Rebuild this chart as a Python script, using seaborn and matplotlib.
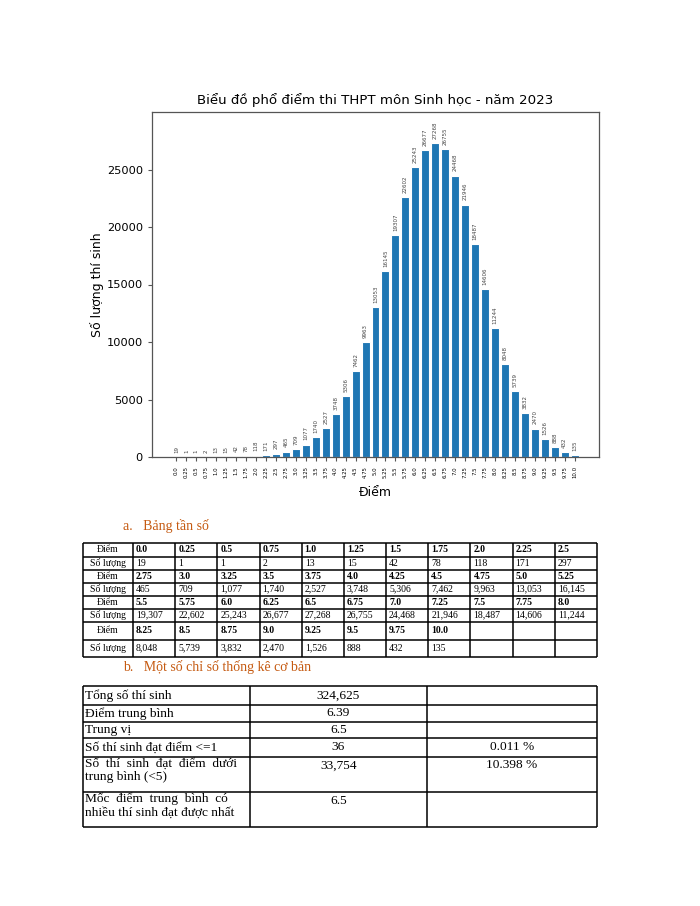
import matplotlib
matplotlib.use("Agg")
import matplotlib.pyplot as plt
import seaborn as sns
import pandas as pd

# --- dados ---
diem = ["0.0", "0.25", "0.5", "0.75", "1.0", "1.25", "1.5", "1.75", "2.0", "2.25", "2.5",
        "2.75", "3.0", "3.25", "3.5", "3.75", "4.0", "4.25", "4.5", "4.75", "5.0", "5.25",
        "5.5", "5.75", "6.0", "6.25", "6.5", "6.75", "7.0", "7.25", "7.5", "7.75", "8.0",
        "8.25", "8.5", "8.75", "9.0", "9.25", "9.5", "9.75", "10.0"]
so_luong = [19, 1, 1, 2, 13, 15, 42, 78, 118, 171, 297,
            465, 709, 1077, 1740, 2527, 3748, 5306, 7462, 9963, 13053, 16145,
            19307, 22602, 25243, 26677, 27268, 26755, 24468, 21946, 18487, 14606, 11244,
            8048, 5739, 3832, 2470, 1526, 888, 432, 135]

title = "Biểu đồ phổ điểm thi THPT môn Sinh học - năm 2023"
heading_a = "a.   Bảng tần số"
heading_b = "b.   Một số chỉ số thống kê cơ bản"

stat_labels = ["Tổng số thí sinh", "Điểm trung bình", "Trung vị", "Số thí sinh đạt điểm <=1",
               "Số  thí  sinh  đạt  điểm  dưới\ntrung bình (<5)",
               "Mốc  điểm  trung  bình  có\nnhiều thí sinh đạt được nhất"]
stat_values = ["324,625", "6.39", "6.5", "36", "33,754", "6.5"]
stat_pcts = ["", "", "", "0.011 %", "10.398 %", ""]

df = pd.DataFrame({"diem": diem, "so_luong": so_luong})

W, H = 700, 906
fig = plt.figure(figsize=(7, 9.06), dpi=100)

# --- gráfico ---
ax = fig.add_axes([152 / W, 1 - 457 / H, (599 - 152) / W, (457 - 112) / H])
sns.barplot(data=df, x="diem", y="so_luong", color="#1f77b4", saturation=1,
            edgecolor="white", linewidth=0.8, width=0.8, ax=ax)
for c in ax.containers:
    ax.bar_label(c, labels=[str(v) for v in so_luong], rotation=90, fontsize=4,
                 color="#444444", padding=3)
ax.set_ylim(0, 30000)
ax.set_xlim(-2.45, 42.45)
ax.set_yticks([0, 5000, 10000, 15000, 20000, 25000])
ax.tick_params(axis="y", labelsize=8.2, length=3, color="#555555")
ax.tick_params(axis="x", labelsize=3.9, rotation=90, length=3, color="#555555")
ax.set_title(title, fontsize=9.6, pad=6)
ax.set_xlabel("Điểm", fontsize=9, labelpad=6)
ax.set_ylabel("Số lượng thí sinh", fontsize=9, labelpad=2)
for s in ax.spines.values():
    s.set_color("#555555")
    s.set_linewidth(0.9)

# --- tabelas (coordenadas em pixels) ---
tx = fig.add_axes([0, 0, 1, 1])
tx.set_xlim(0, W)
tx.set_ylim(H, 0)
tx.axis("off")
serif = "Liberation Serif"
orange = "#c55a11"

tx.text(123, 526, heading_a, fontsize=10, family=serif, color=orange, va="center")
tx.text(123, 667, heading_b, fontsize=10, family=serif, color=orange, va="center")

# tabela a
t1_x = [83, 133] + [133 + 42.18 * i for i in range(1, 12)]
t1_y = [543, 556.5, 570, 582.5, 596, 608.5, 621.5, 640, 656.5]
tx.hlines(t1_y, t1_x[0], t1_x[-1], color="black", lw=1.1)
tx.vlines(t1_x, t1_y[0], t1_y[-1], color="black", lw=1.1)
for r in range(4):
    chunk = diem[r * 11:(r + 1) * 11]
    vals = [f"{v:,}" for v in so_luong[r * 11:(r + 1) * 11]]
    ya = (t1_y[2 * r] + t1_y[2 * r + 1]) / 2
    yb = (t1_y[2 * r + 1] + t1_y[2 * r + 2]) / 2
    tx.text((t1_x[0] + t1_x[1]) / 2, ya, "Điểm", fontsize=7, family=serif, ha="center", va="center")
    tx.text((t1_x[0] + t1_x[1]) / 2, yb, "Số lượng", fontsize=7, family=serif, ha="center", va="center")
    for j, (d, v) in enumerate(zip(chunk, vals)):
        tx.text(t1_x[j + 1] + 3, ya, d, fontsize=7, family=serif, weight="bold", va="center")
        tx.text(t1_x[j + 1] + 3, yb, v, fontsize=7, family=serif, va="center")

# tabela b
t2_x = [83, 250, 427, 597]
t2_y = [686, 705, 721.5, 738, 756.5, 791.5, 826.5]
tx.hlines(t2_y, t2_x[0], t2_x[-1], color="black", lw=1.1)
tx.vlines(t2_x, t2_y[0], t2_y[-1], color="black", lw=1.1)
for i, (lab, val, pct) in enumerate(zip(stat_labels, stat_values, stat_pcts)):
    y0, y1 = t2_y[i], t2_y[i + 1]
    multi = "\n" in lab
    yc = y0 + 9 if multi else (y0 + y1) / 2
    tx.text(t2_x[0] + 2, y0 + 1 if multi else yc, lab, fontsize=9.6, family=serif,
            va="top" if multi else "center", linespacing=1.15)
    tx.text((t2_x[1] + t2_x[2]) / 2, yc, val, fontsize=9.6, family=serif, ha="center", va="center")
    tx.text((t2_x[2] + t2_x[3]) / 2, yc, pct, fontsize=9.6, family=serif, ha="center", va="center")

fig.savefig("out.png", dpi=100)
